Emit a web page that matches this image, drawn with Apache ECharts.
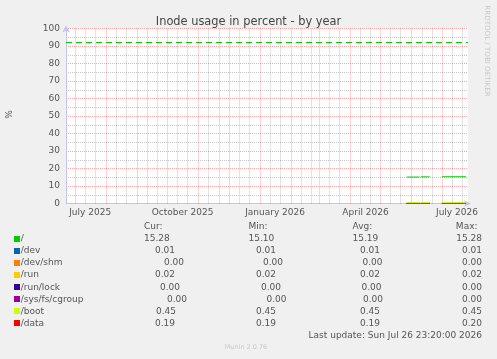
<!DOCTYPE html>
<html><head><meta charset="utf-8">
<script src="https://cdn.jsdelivr.net/npm/echarts@6/dist/echarts.min.js"></script>
<style>html,body{margin:0;padding:0;background:#f0f0f0}#c{width:497px;height:359px}</style>
</head><body><div id="c"></div>
<script>
// ---- data ----
const seriesNames = ['/', '/dev', '/dev/shm', '/run', '/run/lock', '/sys/fs/cgroup', '/boot', '/data'];
const seriesColors = ['#00CC00', '#0066B3', '#FF8000', '#FFCC00', '#330099', '#990099', '#CCFF00', '#FF0000'];
const segmentStarts = ['2026-05-27T00:00:00', '2026-06-10T00:00:00', '2026-07-01T00:00:00'];
const segmentEnds   = ['2026-06-09T00:00:00', '2026-06-19T00:00:00', '2026-07-25T00:00:00'];
const valRoot    = [15.10, 15.22, 15.28];
const valDev     = [0.01, 0.01, 0.01];
const valDevShm  = [0.00, 0.00, 0.00];
const valRun     = [0.02, 0.02, 0.02];
const valRunLock = [0.00, 0.00, 0.00];
const valCgroup  = [0.00, 0.00, 0.00];
const valBoot    = [0.45, 0.45, 0.45];
const valData    = [0.19, 0.19, 0.20];
const curVals = [15.28, 0.01, 0.00, 0.02, 0.00, 0.00, 0.45, 0.19];
const minVals = [15.10, 0.01, 0.00, 0.02, 0.00, 0.00, 0.45, 0.19];
const avgVals = [15.19, 0.01, 0.00, 0.02, 0.00, 0.00, 0.45, 0.19];
const maxVals = [15.28, 0.01, 0.00, 0.02, 0.00, 0.00, 0.45, 0.20];
const warningLevel = 92;
const xLabelDates = ['2025-07-16T00:00:00', '2025-10-16T00:00:00', '2026-01-16T00:00:00', '2026-04-16T00:00:00', '2026-07-16T00:00:00'];
const monthNames = ['January','February','March','April','May','June','July','August','September','October','November','December'];
const rangeStart = '2025-06-21T23:20:00';
const rangeEnd = '2026-07-26T23:20:00';
const titleText = 'Inode usage in percent - by year';
const lastUpdate = 'Last update: Sun Jul 26 23:20:00 2026';
const footer = 'Munin 2.0.76';
const sideText = 'RRDTOOL / TOBI OETIKER';

// ---- layout (not data) ----
const legendCurX = [144, 155, 164, 155, 160, 167, 156, 155];
const legendMinX = [248.5, 256, 263, 256, 261, 266.5, 256, 256];
const legendAvgX = [352.5, 360, 362.5, 360, 361.5, 363, 360, 360];
const legendMaxRight = 482;
const legendY0 = 239, legendDY = 12.05;
const drawOrder = [0, 1, 2, 3, 4, 5, 7, 6]; // /boot drawn above /data

const allVals = [valRoot, valDev, valDevShm, valRun, valRunLock, valCgroup, valBoot, valData];
const t = s => new Date(s).getTime();
const xMin = t(rangeStart), xMax = t(rangeEnd);

function buildSeriesData(vals) {
  const out = [];
  for (let i = 0; i < segmentStarts.length; i++) {
    out.push([t(segmentStarts[i]), vals[i]]);
    out.push([t(segmentEnds[i]), vals[i]]);
    out.push([t(segmentEnds[i]) + 3600000, null]);
  }
  return out;
}

// month grid positions
const majorLines = [], minorLines = [];
{
  const s = new Date(xMin);
  let y = s.getFullYear(), m = s.getMonth();
  for (let k = 0; k < 15; k++) {
    const d1 = new Date(y, m, 1).getTime();
    const d11 = new Date(y, m, 11).getTime();
    const d21 = new Date(y, m, 21).getTime();
    if (d1 > xMin && d1 < xMax) majorLines.push({xAxis: d1});
    if (d11 > xMin && d11 < xMax) minorLines.push({xAxis: d11});
    if (d21 > xMin && d21 < xMax) minorLines.push({xAxis: d21});
    m++; if (m > 11) { m = 0; y++; }
  }
}

const FONT = 'DejaVu Sans';
const TXT = '#555';
const axisCol = '#c4c4f0';

const series = [
  { type: 'line', data: [], silent: true, z: 1, color: 'rgba(0,0,0,0.22)',
    markLine: { silent: true, symbol: 'none', label: {show: false}, animation: false,
      lineStyle: { color: 'rgba(0,0,0,0.22)', type: [1, 1], width: 1 }, data: minorLines } },
  { type: 'line', data: [], silent: true, z: 1, color: 'rgba(255,0,0,0.35)',
    markLine: { silent: true, symbol: 'none', label: {show: false}, animation: false,
      lineStyle: { color: 'rgba(255,0,0,0.35)', type: [1, 1], width: 1 }, data: majorLines } },
  { type: 'line', name: 'warning', data: [[xMin, warningLevel], [xMax, warningLevel]], silent: true, z: 2,
    showSymbol: false, symbol: 'none', color: '#00CC00', clip: true, animation: false,
    lineStyle: { color: '#00CC00', type: [6, 4], width: 1 } }
];
seriesNames.forEach((n, i) => {
  series.push({
    name: n, type: 'line', data: buildSeriesData(allVals[i]), showSymbol: false, symbol: 'none',
    color: seriesColors[i],
    lineStyle: { color: seriesColors[i], width: 1 }, itemStyle: {color: seriesColors[i]},
    connectNulls: false, clip: false, animation: false, z: 3 + drawOrder[i]
  });
});

const graphics = [];
graphics.push({ type: 'text', x: 248.5, y: 22, style: { text: titleText, font: '11.4px "' + FONT + '"', fill: '#444', align: 'center', verticalAlign: 'middle' } });
graphics.push({ type: 'text', x: 10, y: 114.5, rotation: Math.PI / 2, style: { text: '%', font: '9px "' + FONT + '"', fill: TXT, align: 'center', verticalAlign: 'middle' } });
graphics.push({ type: 'text', x: 487, y: 51, rotation: -Math.PI / 2, style: { text: sideText, font: '7.1px "' + FONT + '"', fill: '#c8c8c8', align: 'center', verticalAlign: 'middle' } });
const hdrY = 227;
[['Cur:', 144], ['Min:', 248.5], ['Avg:', 352.5]].forEach(([s, x]) => {
  graphics.push({ type: 'text', x: x, y: hdrY, style: { text: s, font: '9px "' + FONT + '"', fill: TXT, align: 'left', verticalAlign: 'middle' } });
});
graphics.push({ type: 'text', x: 477.5, y: hdrY, style: { text: 'Max:', font: '9px "' + FONT + '"', fill: TXT, align: 'right', verticalAlign: 'middle' } });
seriesNames.forEach((n, i) => {
  const y = legendY0 + i * legendDY;
  graphics.push({ type: 'rect', shape: { x: 14, y: Math.round(y) - 3, width: 6, height: 6 }, style: { fill: seriesColors[i] } });
  const f = '9px "' + FONT + '"';
  graphics.push({ type: 'text', x: 20.7, y: y, style: { text: n, font: f, fill: TXT, align: 'left', verticalAlign: 'middle' } });
  graphics.push({ type: 'text', x: legendCurX[i], y: y, style: { text: curVals[i].toFixed(2), font: f, fill: TXT, align: 'left', verticalAlign: 'middle' } });
  graphics.push({ type: 'text', x: legendMinX[i], y: y, style: { text: minVals[i].toFixed(2), font: f, fill: TXT, align: 'left', verticalAlign: 'middle' } });
  graphics.push({ type: 'text', x: legendAvgX[i], y: y, style: { text: avgVals[i].toFixed(2), font: f, fill: TXT, align: 'left', verticalAlign: 'middle' } });
  graphics.push({ type: 'text', x: legendMaxRight, y: y, style: { text: maxVals[i].toFixed(2), font: f, fill: TXT, align: 'right', verticalAlign: 'middle' } });
});
graphics.push({ type: 'text', x: 482, y: 335.5, style: { text: lastUpdate, font: '9px "' + FONT + '"', fill: TXT, align: 'right', verticalAlign: 'middle' } });
graphics.push({ type: 'text', x: 246, y: 347, style: { text: footer, font: '6.5px "' + FONT + '"', fill: '#c8c8c8', align: 'center', verticalAlign: 'middle' } });

const chart = echarts.init(document.getElementById('c'), null, { renderer: 'canvas' });
chart.setOption({
  backgroundColor: '#f0f0f0',
  animation: false,
  grid: { left: 66, right: 29, top: 28.5, bottom: 155.5, show: true, backgroundColor: '#ffffff', borderWidth: 0 },
  xAxis: {
    type: 'value', min: xMin, max: xMax,
    axisLine: { show: true, lineStyle: { color: axisCol, width: 1 }, symbol: ['none', 'arrow'], symbolSize: [5, 7], symbolOffset: [0, 3] },
    axisTick: { show: false },
    splitLine: { show: false },
    axisLabel: { customValues: xLabelDates.map(t), margin: 4.5, color: TXT, fontFamily: FONT, fontSize: 9,
      formatter: v => { const d = new Date(v); return monthNames[d.getMonth()] + ' ' + d.getFullYear(); } }
  },
  yAxis: {
    type: 'value', min: 0, max: 100, interval: 10,
    axisLine: { show: true, lineStyle: { color: axisCol, width: 1 }, symbol: ['none', 'arrow'], symbolSize: [6, 7], symbolOffset: [0, 3] },
    axisTick: { show: false },
    axisLabel: { margin: 6, color: TXT, fontFamily: FONT, fontSize: 9 },
    splitLine: { show: true, lineStyle: { color: 'rgba(255,0,0,0.35)', type: [1, 1], width: 1 } },
    minorTick: { show: false, splitNumber: 2 },
    minorSplitLine: { show: true, lineStyle: { color: 'rgba(0,0,0,0.22)', type: [1, 1], width: 1 } }
  },
  series: series,
  graphic: graphics
});
</script></body></html>
